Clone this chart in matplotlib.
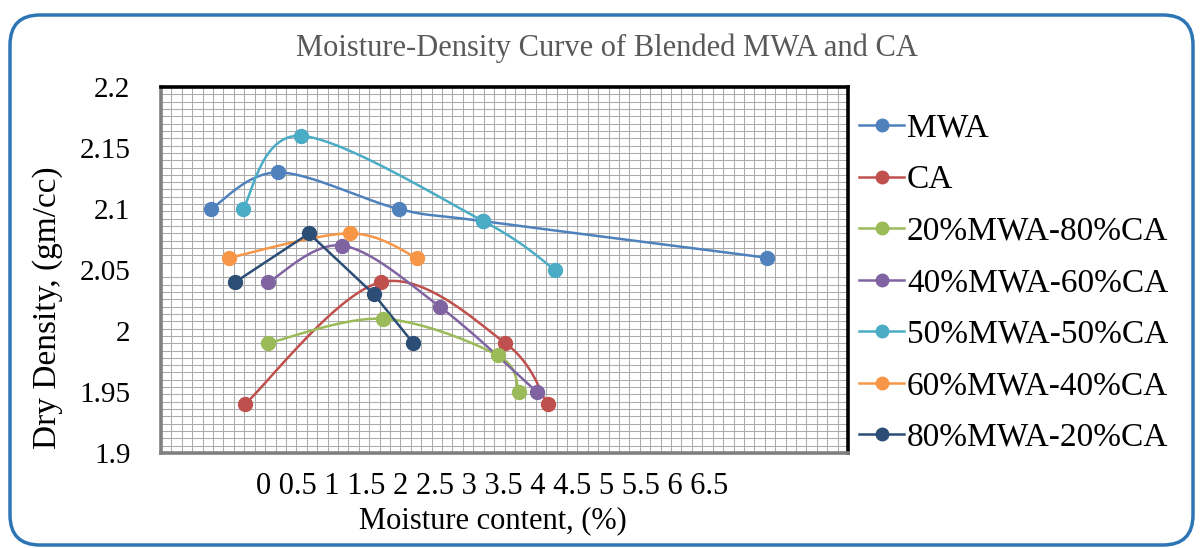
import numpy as np
import matplotlib
matplotlib.use("Agg")
import matplotlib.pyplot as plt
from matplotlib.patches import FancyBboxPatch
from matplotlib.transforms import IdentityTransform

plt.rcParams['font.family'] = ['Liberation Serif', 'DejaVu Serif']

# 読み取った値 (x: moisture content, y: dry density)
mwa_x = [-0.69, 0.20, 1.80, 2.92, 6.68]
mwa_y = [2.10, 2.13, 2.10, 2.09, 2.06]
ca_x = [-0.24, 1.56, 3.21, 3.77]
ca_y = [1.94, 2.04, 1.99, 1.94]
m20_x = [0.06, 1.59, 3.11, 3.39]
m20_y = [1.99, 2.01, 1.98, 1.95]
m40_x = [0.07, 1.05, 2.34, 3.63]
m40_y = [2.04, 2.07, 2.02, 1.95]
m50_x = [-0.27, 0.50, 2.92, 3.87]
m50_y = [2.10, 2.16, 2.09, 2.05]
m60_x = [-0.45, 1.15, 2.04]
m60_y = [2.06, 2.08, 2.06]
m80_x = [-0.37, 0.61, 1.47, 1.99]
m80_y = [2.04, 2.08, 2.03, 1.99]

labels = ["MWA", "CA", "20%MWA-80%CA", "40%MWA-60%CA",
          "50%MWA-50%CA", "60%MWA-40%CA", "80%MWA-20%CA"]
x_ticks = [0, 0.5, 1, 1.5, 2, 2.5, 3, 3.5, 4, 4.5, 5, 5.5, 6, 6.5]
y_ticks = [1.9, 1.95, 2.0, 2.05, 2.1, 2.15, 2.2]

series = [(mwa_x, mwa_y), (ca_x, ca_y), (m20_x, m20_y), (m40_x, m40_y),
          (m50_x, m50_y), (m60_x, m60_y), (m80_x, m80_y)]
colors = ["#4F81BD", "#C0504D", "#9BBB59", "#8064A2",
          "#4BACC6", "#F79646", "#2C4D75"]
smooth = [True, True, True, True, True, True, False]

W, H = 1202, 548
XMIN, XMAX = -1.351, 7.748
YMIN, YMAX = 1.9, 2.2
L, R, T, B = 161, 848, 87, 453


def smooth_line(xs, ys, n=40):
    """Excel風のスムージング (Catmull-Rom, 画面座標で計算)"""
    sx = (R - L) / (XMAX - XMIN)
    sy = (B - T) / (YMAX - YMIN)
    p = np.column_stack([np.asarray(xs) * sx, np.asarray(ys) * sy])
    if len(p) < 3:
        return xs, ys
    pts = np.vstack([p[0], p, p[-1]])
    out = []
    t = np.linspace(0, 1, n)[:, None]
    for i in range(1, len(pts) - 2):
        p0, p1, p2, p3 = pts[i - 1], pts[i], pts[i + 1], pts[i + 2]
        c1 = p1 + (p2 - p0) / 6
        c2 = p2 - (p3 - p1) / 6
        seg = ((1 - t) ** 3) * p1 + 3 * ((1 - t) ** 2) * t * c1 \
            + 3 * (1 - t) * t ** 2 * c2 + t ** 3 * p2
        out.append(seg if i == 1 else seg[1:])
    out = np.vstack(out)
    return out[:, 0] / sx, out[:, 1] / sy


fig = plt.figure(figsize=(W / 100, H / 100), dpi=100)
ax = fig.add_axes([L / W, 1 - B / H, (R - L) / W, (B - T) / H])

for (xs, ys), c, lab, sm in zip(series, colors, labels, smooth):
    lx, ly = smooth_line(xs, ys) if sm else (xs, ys)
    ax.plot(lx, ly, color=c, lw=1.8, zorder=3)
    ax.plot(xs, ys, 'o', color=c, ms=10, zorder=4)
    ax.plot([], [], '-o', color=c, lw=1.8, ms=9, label=lab)

ax.set_xlim(XMIN, XMAX)
ax.set_ylim(YMIN, YMAX)
ax.set_xticks([])
ax.set_yticks(y_ticks)
ax.set_yticklabels(["%g" % v for v in y_ticks])
ax.xaxis.set_minor_locator(matplotlib.ticker.FixedLocator(np.linspace(XMIN, XMAX, 67)))
ax.yaxis.set_minor_locator(matplotlib.ticker.FixedLocator(np.linspace(YMIN, YMAX, 51)))
ax.grid(which='minor', color='#ababab', lw=0.75)
ax.grid(which='major', visible=False)
ax.tick_params(which='both', length=0)
ax.tick_params(axis='y', labelsize=21, pad=22)
ax.set_axisbelow(True)

for s in ['top', 'right']:
    ax.spines[s].set_color('black')
    ax.spines[s].set_linewidth(2.6)
for s in ['left', 'bottom']:
    ax.spines[s].set_color('#808080')
    ax.spines[s].set_linewidth(2.6)

# 横軸の目盛ラベルは元の図と同じく一行に詰めて並ぶ
fig.text(256 / W, 1 - 487 / H, " ".join("%g" % v for v in x_ticks),
         ha='left', va='center', fontsize=22)

ax.set_xlabel("Moisture content, (%)", fontsize=22)
ax.xaxis.set_label_coords((493 - L) / (R - L), -(521 - B) / (B - T))
ax.xaxis.label.set_va('center')
ax.set_ylabel("Dry Density, (gm/cc)", fontsize=24)
ax.yaxis.set_label_coords((48 - L) / (R - L), (B - 308) / (B - T))
ax.yaxis.label.set_va('center')

fig.text(0.505, 1 - 48 / H, "Moisture-Density Curve of Blended MWA and CA",
         ha='center', va='center', fontsize=22, color='#595959')

fig.legend(loc='upper left', bbox_to_anchor=(846 / W, 1 - 100 / H),
           frameon=False, fontsize=24, handlelength=1.35, handletextpad=0.08,
           labelspacing=0.63, borderaxespad=0)

border = FancyBboxPatch((10, 3), 1183, 530, boxstyle="round,pad=0,rounding_size=30",
                        transform=IdentityTransform(), fill=False,
                        edgecolor='#2E75B6', lw=2.5)
fig.patches.append(border)

fig.savefig("out.png", dpi=100)
